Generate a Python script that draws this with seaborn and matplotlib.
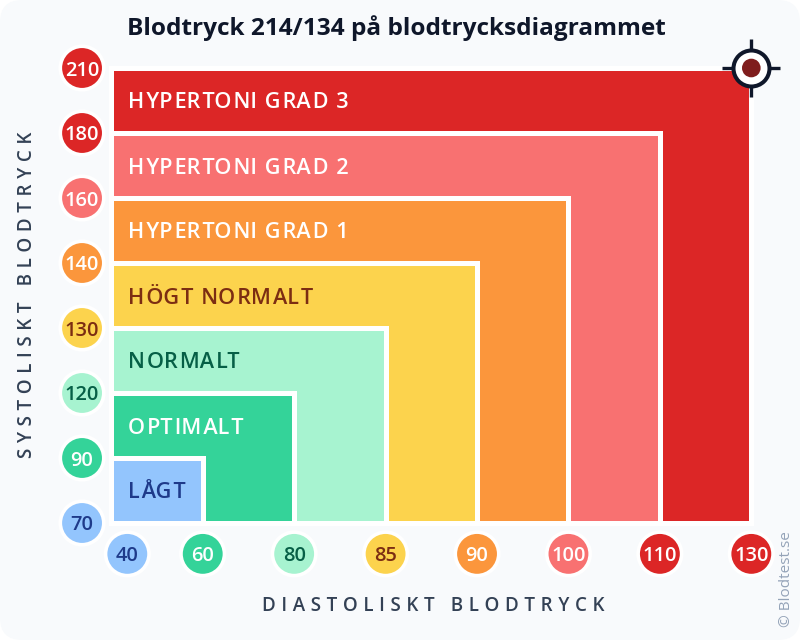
import matplotlib
matplotlib.use("Agg")
import matplotlib.pyplot as plt
from matplotlib.patches import FancyBboxPatch, Rectangle
import pandas as pd
import seaborn as sns

# ---- data ----
systolic = [70, 90, 120, 130, 140, 160, 180, 210]
diastolic = [40, 60, 80, 85, 90, 100, 110, 130]
bands = ["LÅGT", "OPTIMALT", "NORMALT", "HÖGT NORMALT",
         "HYPERTONI GRAD 1", "HYPERTONI GRAD 2", "HYPERTONI GRAD 3"]
band_colors = ["#93C5FD", "#34D399", "#A7F3D0", "#FCD34D", "#FB963C", "#F87171", "#DC2626"]
band_text = ["#1E3A8A", "#FFFFFF", "#065F46", "#7C2D12", "#FFFFFF", "#FFFFFF", "#FFFFFF"]
badge_colors = ["#93C5FD", "#34D399", "#A7F3D0", "#FCD34D", "#FB963C", "#F87171", "#DC2626", "#DC2626"]
badge_text = ["#1E3A8A", "#FFFFFF", "#065F46", "#7C2D12", "#FFFFFF", "#FFFFFF", "#FFFFFF", "#FFFFFF"]
title = "Blodtryck 214/134 på blodtrycksdiagrammet"
xlabel = "DIASTOLISKT BLODTRYCK"
ylabel = "SYSTOLISKT BLODTRYCK"
credit = "© Blodtest.se"

# ---- layout ----
W, H = 800, 640
X0, XS = 111.3, 91.43
Y0, YS = 523.0, 65.0
FONT = ["Open Sans", "Lato", "DejaVu Sans"]

sns.set_theme(style="white")
plt.rcParams["font.family"] = FONT


def spaced(s, hairs=1):
    return ("\u200a" * hairs).join(s)


def alt_spaced(s):
    out = ""
    for i, ch in enumerate(s):
        out += ch
        if i % 2 == 0 and i < len(s) - 1:
            out += "\u200a"
    return out


def px(x, y):
    return x / W, 1 - y / H


fig = plt.figure(figsize=(8, 6.4), dpi=100, facecolor="white")
ax = fig.add_axes([0, 0, 1, 1])
ax.set_xlim(-X0 / XS, (W - X0) / XS)
ax.set_ylim((Y0 - H) / YS, Y0 / YS)
ax.axis("off")

fig.patches.append(FancyBboxPatch((0, 0), W, H, boxstyle="round,pad=0,rounding_size=22",
                                  transform=None, fc="#F8FAFC", ec="none", zorder=-5,
                                  figure=fig))

# nested bands, largest first
for i in range(len(bands) - 1, -1, -1):
    ax.add_patch(Rectangle((0, 0), i + 1, i + 1, fc=band_colors[i], ec="white",
                           lw=3.6, joinstyle="miter", zorder=2))
    ax.text(0.18, i + 0.5, alt_spaced(bands[i]), color=band_text[i], fontsize=15.6,
            fontweight="semibold", ha="left", va="center_baseline", zorder=3)

# badges
sys_df = pd.DataFrame({"x": -0.32, "y": range(8), "c": [str(v) for v in systolic]})
dia_x = [0.175] + list(range(1, 8))
dia_df = pd.DataFrame({"x": dia_x, "y": -0.475, "c": [str(v) for v in diastolic]})
for df, vals in ((sys_df, systolic), (dia_df, diastolic)):
    sns.scatterplot(data=df, x="x", y="y", hue="c", palette=badge_colors, s=980,
                    edgecolor="white", linewidth=2.6, legend=False, ax=ax, zorder=4,
                    clip_on=False)
    for k, row in enumerate(df.itertuples()):
        ax.text(row.x, row.y, str(vals[k]), color=badge_text[k], fontsize=14.4,
                fontweight="semibold", ha="center", va="center_baseline", zorder=5)

# target marker at the chart's top-right corner
tx, ty = [7], [7]
sns.scatterplot(x=tx, y=ty, marker="+", s=1745, color="#0F172A", linewidth=2.4, ax=ax, zorder=6)
sns.scatterplot(x=tx, y=ty, marker="o", s=672, color="white", edgecolor="#0F172A", linewidth=2.9, ax=ax, zorder=7)
sns.scatterplot(x=tx, y=ty, marker="o", s=180, color="#7F1D1D", edgecolor="none", ax=ax, zorder=8)
ax.set_xlim(-X0 / XS, (W - X0) / XS)
ax.set_ylim((Y0 - H) / YS, Y0 / YS)
ax.set_xlabel("")
ax.set_ylabel("")

# texts in figure pixels
fig.text(*px(396.5, 28), title, fontsize=17.55, fontweight="bold", color="#0F172A",
         ha="center", va="center")
fig.text(*px(433, 606), spaced(xlabel, 3), fontsize=13.5, fontweight="semibold", color="#334155",
         ha="center", va="center")
fig.text(*px(27, 294.5), spaced(ylabel, 3), fontsize=13.5, fontweight="semibold", color="#334155",
         ha="center", va="center", rotation=90)
fig.text(*px(787, 579.5), credit, fontsize=11, color="#94A3B8",
         ha="center", va="center", rotation=90)

fig.savefig("out.png", dpi=100, facecolor=fig.get_facecolor())
